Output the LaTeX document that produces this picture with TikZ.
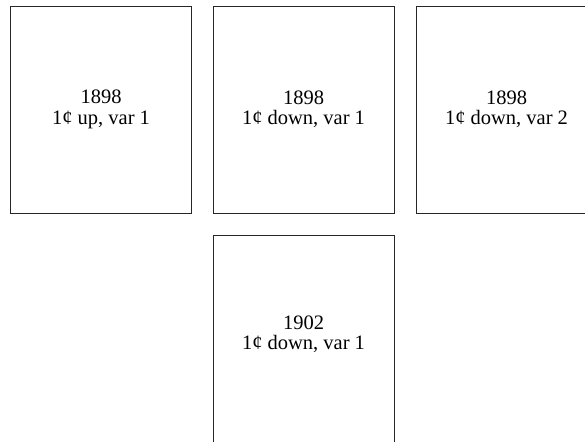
\documentclass[tikz,border=0pt]{standalone}
\usepackage{fontspec}
\setmainfont{Liberation Serif}
\begin{document}
\begin{tikzpicture}[
  x=1bp, y=1bp,
  stamp/.style={rectangle, draw=black!85, line width=0.8bp, minimum width=181bp, minimum height=207bp, inner sep=0pt},
  caption/.style={align=center, font=\fontsize{20.5bp}{20.5bp}\selectfont, inner sep=0pt}
]
  \useasboundingbox (0,0) rectangle (585,442);
  \clip (0,0) rectangle (585,442);

  % --- first row ---
  \node[stamp] (s1) at (101.0, 332.5) {};
  \node[stamp] (s2) at (303.5, 332.5) {};
  \node[stamp] (s3) at (506.5, 332.5) {};

  \node[caption] (t1) at (s1.center) {1898\\1¢ up, var 1};
  \node[caption] (t2) at (s2.center) {1898\\1¢ down, var 1};
  \node[caption] (t3) at (s3.center) {1898\\1¢ down, var 2};

  % --- second row ---
  \node[stamp] (s4) at (303.5, 103.5) {};
  \node[caption] (t4) at ([yshift=4bp]s4.center) {1902\\1¢ down, var 1};

\end{tikzpicture}
\end{document}
